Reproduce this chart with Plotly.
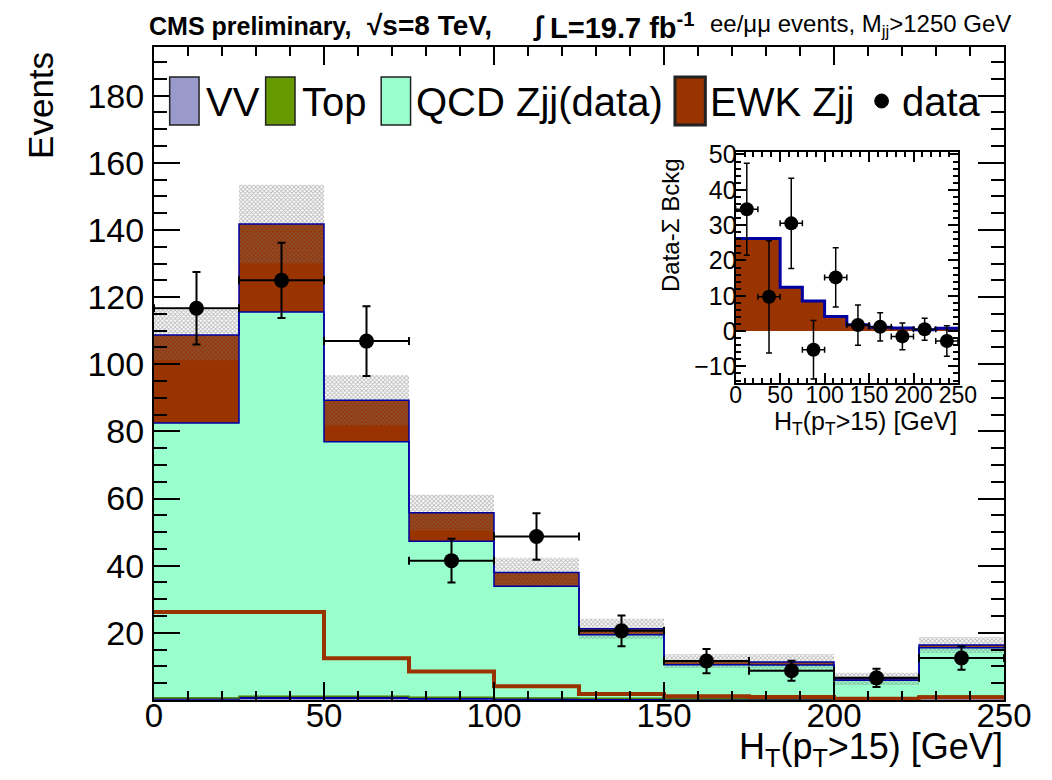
import plotly.graph_objects as go

# ---------------- data ----------------
bin_edges = [0, 25, 50, 75, 100, 125, 150, 175, 200, 225, 250]
vv = [0.4, 0.6, 0.6, 0.4, 0.3, 0.3, 0.2, 0.2, 0.2, 0.7]
top = [0.2, 0.5, 0.5, 0.4, 0.3, 0.2, 0.2, 0.2, 0.1, 0.5]
qcd = [81.9, 114.5, 75.8, 46.5, 33.3, 18.9, 10.1, 10.0, 5.6, 14.4]
ewk = [26.2, 26.2, 12.4, 8.5, 4.1, 1.8, 1.1, 0.9, 0.4, 0.8]
syst = [7.5, 11.7, 7.5, 5.3, 4.4, 3.0, 2.1, 2.4, 1.8, 2.4]
data_y = [116.7, 125.0, 106.9, 41.5, 48.7, 20.6, 11.6, 8.7, 6.6, 12.5]
data_err = [10.8, 11.2, 10.4, 6.5, 6.9, 4.6, 3.6, 3.0, 2.7, 3.5]
diff_y = [34.5, 9.7, 30.5, -5.3, 15.2, 1.7, 1.2, -1.5, 0.5, -2.8]
diff_err = [13.0, 15.9, 12.8, 8.3, 8.4, 5.7, 4.0, 3.8, 3.1, 4.3]
y_ticks = [20, 40, 60, 80, 100, 120, 140, 160, 180]
x_ticks = [0, 50, 100, 150, 200, 250]
inset_y_ticks = [-10, 0, 10, 20, 30, 40, 50]

C_VV = "#9999cc"
C_TOP = "#669900"
C_QCD = "#99ffcc"
C_EWK = "#993300"
C_NAVY = "#0000a0"
FONT = "Liberation Sans, Arial, sans-serif"

n = len(qcd)
centers = [(bin_edges[i] + bin_edges[i + 1]) / 2 for i in range(n)]
widths = [bin_edges[i + 1] - bin_edges[i] for i in range(n)]
halfw = [w / 2 for w in widths]

cum_vv = vv[:]
cum_top = [vv[i] + top[i] for i in range(n)]
cum_qcd = [cum_top[i] + qcd[i] for i in range(n)]
cum_tot = [cum_qcd[i] + ewk[i] for i in range(n)]
band_lo = [cum_tot[i] - syst[i] for i in range(n)]
band_hi = [cum_tot[i] + syst[i] for i in range(n)]


def step(vals):
    return vals + [vals[-1]]


fig = go.Figure()

# stacked fills (step polygons)
for vals, col, mode in [(cum_vv, C_VV, "tozeroy"), (cum_top, C_TOP, "tonexty"),
                        (cum_qcd, C_QCD, "tonexty"), (cum_tot, C_EWK, "tonexty")]:
    fig.add_trace(go.Scatter(x=bin_edges, y=step(vals), mode="lines", line_shape="hv",
                             line=dict(width=0, color=col), fill=mode, fillcolor=col,
                             showlegend=False, hoverinfo="skip"))
# uncertainty band (hatched)
fig.add_trace(go.Scatter(x=bin_edges, y=step(band_lo), mode="lines", line_shape="hv",
                         line=dict(width=0, color="rgba(0,0,0,0)"),
                         showlegend=False, hoverinfo="skip"))
fig.add_trace(go.Scatter(x=bin_edges, y=step(band_hi), mode="lines", line_shape="hv",
                         line=dict(width=0, color="rgba(0,0,0,0)"),
                         fill="tonexty", fillcolor="rgba(0,0,0,0)",
                         fillpattern=dict(shape="x", fgcolor="#747474",
                                          bgcolor="rgba(0,0,0,0)", size=3,
                                          solidity=0.5),
                         showlegend=False, hoverinfo="skip"))
# outlines
fig.add_trace(go.Scatter(x=bin_edges, y=step(cum_vv), mode="lines", line_shape="hv",
                         line=dict(color=C_NAVY, width=2), showlegend=False))
fig.add_trace(go.Scatter(x=bin_edges, y=step(cum_top), mode="lines", line_shape="hv",
                         line=dict(color="#4d7a00", width=1.5), showlegend=False))
fig.add_trace(go.Scatter(x=bin_edges, y=step(cum_qcd), mode="lines", line_shape="hv",
                         line=dict(color=C_NAVY, width=1.5), showlegend=False))
fig.add_trace(go.Scatter(x=bin_edges, y=step(cum_tot), mode="lines", line_shape="hv",
                         line=dict(color=C_NAVY, width=1.5), showlegend=False))
# EWK unstacked
fig.add_trace(go.Scatter(x=bin_edges, y=step(ewk), mode="lines", line_shape="hv",
                         line=dict(color=C_EWK, width=4), showlegend=False))
# data
fig.add_trace(go.Scatter(x=centers, y=data_y, mode="markers",
                         marker=dict(color="black", size=15),
                         error_y=dict(type="data", array=data_err, color="black",
                                      thickness=2, width=4),
                         error_x=dict(type="data", array=halfw, color="black",
                                      thickness=2, width=4),
                         showlegend=False))

# ---------------- inset ----------------
fig.add_trace(go.Scatter(x=bin_edges, y=step(ewk), mode="lines", line_shape="hv",
                         xaxis="x2", yaxis="y2", fill="tozeroy", fillcolor=C_EWK,
                         line=dict(color=C_NAVY, width=3), showlegend=False))
fig.add_trace(go.Scatter(x=centers, y=diff_y, mode="markers", xaxis="x2", yaxis="y2",
                         marker=dict(color="black", size=14),
                         error_y=dict(type="data", array=diff_err, color="black",
                                      thickness=1.5, width=3),
                         error_x=dict(type="data", array=halfw, color="black",
                                      thickness=1.5, width=3),
                         showlegend=False))

# ---------------- layout ----------------
# page body has an 8px margin: figure is drawn 8px right/down in the screenshot,
# so it is made 16px smaller than the window to avoid any overflow
OFF = 8
W, H = 1052 - 2 * OFF, 780 - 2 * OFF
L, T = 154 - OFF, 47 - OFF
R = (1052 - OFF) - 1022
B = (780 - OFF) - 700
PW, PH = W - L - R, H - T - B


def px(xr):
    # screenshot x pixel -> paper fraction
    return (xr - OFF - L) / PW


def py(yr):
    # screenshot y pixel -> paper fraction
    return (H - B - (yr - OFF)) / PH


fig.update_layout(
    width=W, height=H,
    margin=dict(l=L, r=R, t=T, b=B),
    paper_bgcolor="white", plot_bgcolor="white",
    font=dict(family=FONT, color="black"),
    xaxis=dict(domain=[0, 1], range=[0, 250], tickmode="array", tickvals=x_ticks,
               ticks="inside", ticklen=18, tickwidth=1.5, tickcolor="black",
               minor=dict(dtick=10, ticklen=9, ticks="inside", tickcolor="black", tickwidth=1.5),
               showline=True, linecolor="black", linewidth=2, mirror="allticks",
               showgrid=False, zeroline=False, tickfont=dict(size=33),
               ticklabelstandoff=-15),
    yaxis=dict(domain=[0, 1], range=[0, 194.5], tickmode="array", tickvals=y_ticks,
               ticks="inside", ticklen=26, tickwidth=1.5, tickcolor="black",
               minor=dict(dtick=5, ticklen=13, ticks="inside", tickcolor="black", tickwidth=1.5),
               showline=True, linecolor="black", linewidth=2, mirror="allticks",
               showgrid=False, zeroline=False, tickfont=dict(size=34),
               ticklabelstandoff=1),
    xaxis2=dict(domain=[px(748), px(975)], anchor="y2", range=[0, 250],
                tickmode="array", tickvals=x_ticks, ticks="inside", ticklen=10,
                tickcolor="black", tickwidth=1.5,
                minor=dict(dtick=10, ticklen=5, ticks="inside", tickcolor="black"),
                showline=True, linecolor="black", linewidth=2, mirror="allticks",
                showgrid=False, zeroline=False, tickfont=dict(size=23),
                ticklabelstandoff=-10),
    yaxis2=dict(domain=[py(383), py(152)], anchor="x2", range=[-14.7, 50.7],
                tickmode="array", tickvals=inset_y_ticks, ticks="inside", ticklen=10,
                tickcolor="black", tickwidth=1.5,
                minor=dict(dtick=2, ticklen=5, ticks="inside", tickcolor="black"),
                showline=True, linecolor="black", linewidth=2, mirror="allticks",
                showgrid=False, zeroline=False, tickfont=dict(size=25),
                ticklabelstandoff=-8),
)

ann = []


def text(t, xr, yr, size, xanchor="left", yanchor="middle", angle=0):
    ann.append(dict(text=t, x=px(xr), y=py(yr), xref="paper", yref="paper",
                    xanchor=xanchor, yanchor=yanchor, showarrow=False,
                    textangle=angle, font=dict(size=size)))


# title
text("<b>CMS preliminary,</b>", 147, 26, 25)
text("<b>√s=8 TeV,</b>", 369, 26, 28)
text("<b>∫</b>", 539, 26, 27)
text("<b>L=19.7 fb<sup>-1</sup></b>", 556, 26, 29)
text("ee/μμ events, M<sub>jj</sub>>1250 GeV", 1031, 25, 24, xanchor="right")
# axis titles
text("Events", 38, 50, 35, xanchor="center", yanchor="top", angle=-90)
text("H<sub>T</sub>(p<sub>T</sub>>15) [GeV]", 1023, 749, 36, xanchor="right")
text("Data-Σ Bckg", 682, 156, 24, xanchor="center", yanchor="top", angle=-90)
text("H<sub>T</sub>(p<sub>T</sub>>15) [GeV]", 976, 423, 25, xanchor="right")

# legend (manual)
shapes = []
legend_items = [
    ("VV", C_VV, 170, 200, 205, 1.5),
    ("Top", C_TOP, 268, 298, 303, 1.5),
    ("QCD Zjj(data)", C_QCD, 386, 416, 419, 1.5),
    ("EWK Zjj", C_EWK, 686, 717, 720, 3),
]
for label, col, x0, x1, xt, lw in legend_items:
    shapes.append(dict(type="rect", xref="paper", yref="paper",
                       x0=px(x0), x1=px(x1), y0=py(125), y1=py(77),
                       fillcolor=col, line=dict(color="#222222", width=lw)))
    text(label, xt, 102, 40)
shapes.append(dict(type="circle", xref="paper", yref="paper",
                   x0=px(890), x1=px(904), y0=py(108), y1=py(94),
                   fillcolor="black", line=dict(color="black", width=1)))
text("data", 916, 102, 40)

fig.update_layout(annotations=ann, shapes=shapes)
fig.write_html("out.html")
